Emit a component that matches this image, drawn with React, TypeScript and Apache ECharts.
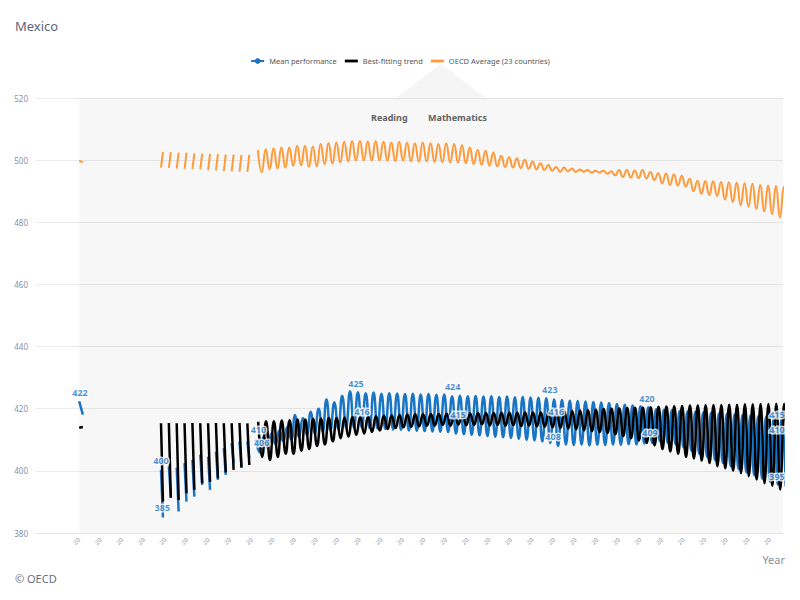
import React, { useEffect, useRef } from 'react';
import * as echarts from 'echarts';

// x-axis tick labels (one per tick, truncated years as in the reference)
const xTickLabels = [
  '20', '20', '20', '20', '20', '20', '20', '20', '20', '20', '20',
  '20', '20', '20', '20', '20', '20', '20', '20', '20', '20', '20',
  '20', '20', '20', '20', '20', '20', '20', '20', '20', '20', '20',
];

// Number of leading oscillation periods that are drawn as detached strokes
const BROKEN = 12;

// Isolated first readings (at tick 0)
const blueStart = [422.4, 418.1];
const blackStart = [413.9, 414.1];
const orangeStart = [499.8, 499.3];

// Best-fitting trend: per-oscillation peaks and troughs
const blackHigh = [
  415.3, 415.4, 415.3, 415.3, 415.4, 415.3, 415.3, 415.4, 415.3, 415.3, 415.4, 415.3,
  415.8, 416, 416, 416.2, 416.3, 416.5,
  416.5, 416.7, 416.8, 417, 417, 417.2, 417.3, 417.4, 417.5, 417.6, 417.7, 417.8,
  418, 418.1, 418.2, 418.2, 418.3, 418.3, 418.4, 418.4, 418.5, 418.5, 418.6, 418.6, 418.6, 418.7, 418.7, 418.7, 418.8, 418.8, 418.8, 418.9,
  419, 419.1, 419.3, 419.4, 419.6, 419.7, 419.9, 420, 420.1, 420.2, 420.3, 420.4, 420.5, 420.6, 420.7, 420.8, 420.9, 421, 421, 421.1, 421.2, 421.2, 421.3, 421.3, 421.4, 421.4, 421.5, 421.5, 421.6, 421.6,
];
const blackLow = [
  390.1, 391.3, 390.6, 392.8, 393.9, 396, 396.5, 397.6, 399.5, 400.3, 401, 401.9,
  404.5, 403.5, 404.5, 405.5, 405.5, 406.5, 407, 408, 408.5, 409.5, 410.5, 411, 411.6, 412, 412.5, 413, 413.5, 413.8, 414, 414.2, 414.3, 414.5,
  414.6, 414.8, 414.5, 414.9, 414.7, 414.8, 415, 414.6, 414.8, 414.5, 414.7, 414.4, 414.6, 414.3, 414.2,
  414, 413.8, 413.6, 413.4, 413, 412.8, 412.5, 412.2, 411.8, 411.2, 410.5, 409.8, 409, 408.2, 407, 406.2, 405.5, 404.5, 404, 403.3, 402.5, 401.5, 400.8, 400, 399.3, 398.3, 397.2, 396, 395.2, 394, 393,
];

// Mean performance: per-oscillation peaks and troughs
const blueHigh = [
  400.3, 401.4, 401, 402.5, 403.5, 405.2, 404.6, 406.2, 407.3, 408.9, 409.5, 409.5,
  410, 411, 412, 413, 414, 418, 417, 419, 420, 423, 422, 424.2, 425.6, 425.3,
  425, 425.2, 424.8, 425, 424.9, 424.7, 424.8, 424.6, 424.7, 424.5, 424.6,
  424, 424.2, 424, 424.1, 423.9, 424, 423.8, 423.9, 423.7, 423.8, 423.6, 423.5, 423.4,
  423, 422.8, 422.6, 422.5, 422.3, 422.2, 422, 421.8, 421.5, 421.3, 421, 420.8, 420.5,
  419.8, 419.6, 419.5, 419.3, 419.2, 419, 418.8, 418.7, 418.5, 418.3, 418.2, 418, 417.8, 417.6, 417.5, 417.3, 417,
];
const blueLow = [
  385, 391.7, 386.9, 390.1, 391.7, 395.5, 393.9, 397.1, 398.7, 402.5, 401.4, 404.1,
  406, 407.5, 408.5, 409.5, 410, 411, 411.5, 412, 412.5, 413, 413.5, 414, 414, 414,
  413.8, 413.6, 413.5, 413.3, 413.2, 413, 412.9, 412.8, 412.7, 412.6, 412.5,
  412, 411.8, 411.6, 411.4, 411.2, 411, 410.8, 410.6, 410.3, 410, 409.8, 409.5, 409,
  408, 408.5, 408.3, 408.5, 408.2, 408.4, 408.3, 408.5, 408.4, 408.6, 408.5, 408.8, 409,
  409.5, 409, 408.5, 407.5, 406.5, 405.5, 404.5, 403.5, 402.5, 401.5, 400.5, 399.5, 398.5, 397.5, 396.5, 395.5, 395,
];

// OECD Average (23 countries): per-oscillation peaks and troughs
const orangeHigh = [
  502.7, 502.6, 502.4, 502.4, 502.2, 502.1, 502, 501.9, 501.8, 501.8, 501.7, 501.7,
  503.2, 503.5, 503.8, 504.1, 504.1, 504.6, 504.6, 504.4, 505.2, 505.5, 505.7, 505.9, 506.2, 506.2, 506, 506.2, 505.9, 505.7, 505.9, 505.7, 505.4, 505.7, 505.4, 505.2, 505.4, 505.2, 504.8, 504.1, 503.3, 503, 502.5, 501.4, 500.9, 500.6, 500.1, 499.6, 499, 498.4,
  497.8, 497.6, 497.3, 497, 496.8, 496.6, 496.6, 496.4, 496.8, 496.8, 496.7, 496.8, 496.2, 495.8, 495.7, 495.5, 495, 494, 493.4, 493.3, 493.2, 493, 492.9, 492.8, 492.6, 492.4, 492, 491.8, 491.7, 491.4,
];
const orangeLow = [
  497.6, 497.5, 497.3, 497.2, 497.1, 497, 496.8, 496.7, 496.5, 496.4, 496.3, 496.2,
  496.1, 497.1, 497.3, 497.6, 498.2, 498.4, 497.8, 498, 498.7, 498.9, 499.3, 499.6, 499.8, 499.9, 499.8, 499.9, 499.8, 499.7, 499.8, 499.6, 499.5, 499.6, 499.4, 499.3, 499.2, 499.2, 499, 498.7, 498.5, 498.2, 498, 497.8, 497.6, 497.4, 497.2, 497, 496.8, 496.6,
  496.2, 496.4, 496.2, 496.3, 496, 496, 495.6, 495.1, 494.6, 494.4, 494.2, 494.1, 493.6, 492.5, 492, 491.8, 491.5, 490, 489.2, 488.8, 488.5, 487.3, 486.5, 485.5, 485, 484.3, 483.5, 482.6, 481.5, 480.4,
];

// Data labels (mean performance values) and where they sit on the x axis
const labelPos = [0.04, 3.79, 3.85, 8.3, 8.45, 12.82, 13.1, 17.3, 17.55, 21.8, 21.95, 22.1, 26.3, 26.44, 32.32, 32.32, 32.32];
const labelValues = [422, 400, 385, 410, 406, 425, 416, 424, 415, 423, 408, 416, 420, 409, 415, 410, 395];

// layout constants of the oscillation (in x-axis tick units)
const FIRST = 3.79;
const PERIOD = 0.3636;
const X_MAX = 32.6;

function build(high: number[], low: number[], phase: number, rise: boolean, start: number[]) {
  const pts: any[] = [];
  pts.push([0, start[0]]);
  pts.push([0.17, start[1]]);
  pts.push([0.3, '-']);
  for (let i = 0; i < high.length; i++) {
    const x = FIRST + i * PERIOD;
    if (i < BROKEN) {
      const a = rise ? low[i] : high[i];
      const b = rise ? high[i] : low[i];
      pts.push([x, a]);
      pts.push([x + PERIOD * 0.25, b]);
      pts.push([x + PERIOD * 0.5, '-']);
    } else {
      pts.push([x + phase * PERIOD, high[i]]);
      pts.push([x + (phase + 0.5) * PERIOD, low[i]]);
    }
  }
  return pts;
}

const BLUE = '#1a74c4';
const BLACK = '#000000';
const ORANGE = '#ff9a3a';
const BAR_ICON = 'path://M0,0H14V3H0Z';

export default function App() {
  const ref = useRef<HTMLDivElement>(null);
  useEffect(() => {
    document.body.style.margin = '0';
    if (!ref.current) return;
    const chart = echarts.init(ref.current, null, { renderer: 'svg' });
    const font = 'Noto Sans';
    chart.setOption({
      animation: false,
      backgroundColor: '#ffffff',
      textStyle: { fontFamily: font },
      title: {
        text: 'Mexico',
        left: 15,
        top: 19,
        padding: 0,
        textStyle: { fontSize: 13, fontWeight: 'normal', color: '#5f677c', fontFamily: font },
      },
      legend: {
        top: 52,
        left: 'center',
        itemWidth: 13,
        itemHeight: 7,
        itemGap: 8,
        textStyle: { fontSize: 7.5, color: '#555', fontFamily: font },
        data: [
          { name: 'Mean performance' },
          { name: 'Best-fitting trend', icon: BAR_ICON, itemStyle: { color: BLACK } },
          { name: 'OECD Average (23 countries)', icon: BAR_ICON, itemStyle: { color: ORANGE } },
        ],
      },
      grid: { left: 36, right: 17, top: 98, bottom: 67 },
      xAxis: {
        type: 'value',
        min: -2,
        max: X_MAX,
        interval: 1,
        name: 'Year',
        nameLocation: 'end',
        nameGap: 2,
        nameTextStyle: { align: 'right', verticalAlign: 'top', padding: [21, 0, 0, 0], fontSize: 11, color: '#8a8f99' },
        splitLine: { show: false },
        axisLine: { show: true, lineStyle: { color: '#e6e6e6' } },
        axisTick: { show: false },
        axisLabel: {
          rotate: 45,
          fontSize: 6,
          margin: 6,
          color: '#8a90a2',
          formatter: (v: number) => (v >= 0 && Number.isInteger(v) && v < xTickLabels.length ? xTickLabels[v] : ''),
        },
      },
      yAxis: {
        type: 'value',
        min: 380,
        max: 520,
        interval: 20,
        axisLine: { show: false },
        axisTick: { show: false },
        axisLabel: { fontSize: 8, color: '#8a90a2', margin: 8 },
        splitLine: { lineStyle: { color: '#ebebeb' } },
      },
      graphic: [
        {
          type: 'polygon',
          shape: { points: [[396, 98], [486, 98], [441, 64]] },
          style: { fill: '#f5f5f5' },
          silent: true,
          z: -1,
        },
        {
          type: 'text',
          left: 371,
          top: 113,
          style: { text: 'Reading', fontSize: 9, fontWeight: 'bold', fill: '#666', fontFamily: font },
        },
        {
          type: 'text',
          left: 428,
          top: 113,
          style: { text: 'Mathematics', fontSize: 9, fontWeight: 'bold', fill: '#666', fontFamily: font },
        },
        {
          type: 'text',
          left: 15,
          top: 573,
          style: { text: '© OECD', fontSize: 11, fill: '#6b6f7a', fontFamily: font },
        },
      ],
      series: [
        {
          name: 'Mean performance',
          type: 'line',
          smooth: true,
          symbol: 'circle',
          symbolSize: 6,
          showSymbol: false,
          connectNulls: false,
          z: 2,
          lineStyle: { color: BLUE, width: 2.5 },
          itemStyle: { color: BLUE },
          data: build(blueHigh, blueLow, 0.08, false, blueStart),
          markArea: {
            silent: true,
            itemStyle: { color: 'rgba(0,0,0,0.032)' },
            data: [[{ xAxis: 0 }, { xAxis: X_MAX }]],
          },
        },
        {
          name: 'Best-fitting trend',
          type: 'line',
          smooth: true,
          symbol: 'none',
          connectNulls: false,
          z: 3,
          lineStyle: { color: BLACK, width: 2.5 },
          itemStyle: { color: BLACK },
          data: build(blackHigh, blackLow, 0.38, false, blackStart),
        },
        {
          name: 'OECD Average (23 countries)',
          type: 'line',
          smooth: true,
          symbol: 'none',
          connectNulls: false,
          z: 2,
          lineStyle: { color: ORANGE, width: 2 },
          itemStyle: { color: ORANGE },
          data: build(orangeHigh, orangeLow, 0.34, true, orangeStart),
        },
        {
          name: 'labels',
          type: 'scatter',
          silent: true,
          symbol: 'circle',
          symbolSize: 1,
          z: 10,
          itemStyle: { color: 'rgba(0,0,0,0)' },
          label: {
            show: true,
            position: 'top',
            distance: 5,
            fontSize: 9,
            fontWeight: 'bold',
            color: BLUE,
            textBorderColor: '#ffffff',
            textBorderWidth: 3,
            formatter: (p: any) => String(p.value[1]),
          },
          data: labelPos.map((x, i) => [x, labelValues[i]]),
        },
      ],
    });
    return () => chart.dispose();
  }, []);
  return <div ref={ref} style={{ width: 800, height: 600 }} />;
}
